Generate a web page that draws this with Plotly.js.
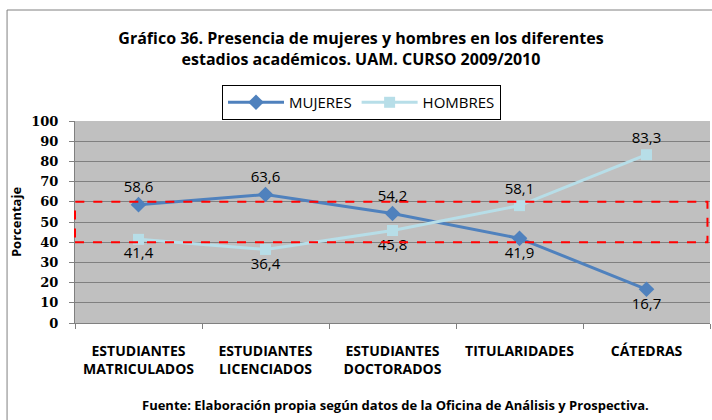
<!DOCTYPE html>
<html>
<head>
<meta charset="utf-8">
<script src="https://cdn.plot.ly/plotly-3.0.1.min.js"></script>
<style>html,body{margin:0;padding:0;background:#fff;}#chart{width:712px;height:420px;}</style>
</head>
<body>
<div id="chart"></div>
<script>
const categories = ["ESTUDIANTES<br>MATRICULADOS", "ESTUDIANTES<br>LICENCIADOS", "ESTUDIANTES<br>DOCTORADOS", "TITULARIDADES", "CÁTEDRAS"];
const mujeres = [58.6, 63.6, 54.2, 41.9, 16.7];
const hombres = [41.4, 36.4, 45.8, 58.1, 83.3];
const mujeresPos = ["top center", "top center", "top center", "bottom center", "bottom center"];
const hombresPos = ["bottom center", "bottom center", "bottom center", "top center", "top center"];
const yTicks = [0, 10, 20, 30, 40, 50, 60, 70, 80, 90, 100];
const highlightBand = [40, 60];

const fmt = v => v.toFixed(1).replace('.', ',');
const sans = "Open Sans, Noto Sans, sans-serif";
const labelFont = {family: sans, size: 15, color: "#000"};

const traces = [
  {
    x: categories, y: mujeres, name: "MUJERES", type: "scatter", mode: "lines+markers+text",
    line: {color: "#4F81BD", width: 3},
    marker: {symbol: "diamond", size: 12, color: "#4F81BD"},
    text: mujeres.map(fmt), textposition: mujeresPos, textfont: labelFont,
    cliponaxis: false
  },
  {
    x: categories, y: hombres, name: "HOMBRES", type: "scatter", mode: "lines+markers+text",
    line: {color: "#B7DEE8", width: 3},
    marker: {symbol: "square", size: 11, color: "#B7DEE8"},
    text: hombres.map(fmt), textposition: hombresPos, textfont: labelFont,
    cliponaxis: false
  }
];

const layout = {
  width: 712, height: 420,
  margin: {l: 75, r: 2, t: 121, b: 97},
  paper_bgcolor: "#fff",
  plot_bgcolor: "#C0C0C0",
  showlegend: true,
  title: {
    text: "<b>Gráfico 36. Presencia de mujeres y hombres en los diferentes<br>estadios académicos. UAM. CURSO 2009/2010</b>",
    font: {family: sans, size: 16, color: "#000"},
    x: 0.507, xanchor: "center", y: 0.895, yanchor: "top", yref: "container"
  },
  legend: {
    orientation: "h", x: 0.2315, xanchor: "left", y: 1.178, yanchor: "top",
    bordercolor: "#000", borderwidth: 1, bgcolor: "#fff",
    font: {family: sans, size: 15, color: "#000"},
    itemwidth: 56, tracegroupgap: 0
  },
  xaxis: {
    type: "category", range: [-0.5, 4.5],
    showgrid: false, zeroline: false,
    showline: true, linecolor: "#808080", linewidth: 1,
    ticks: "outside", tickson: "boundaries", ticklen: 5, tickcolor: "#808080",
    ticklabelstandoff: 15,
    tickfont: {family: sans, size: 14, color: "#000", weight: "bold"},
    fixedrange: true
  },
  yaxis: {
    range: [0, 100], tickvals: yTicks,
    showgrid: true, gridcolor: "#808080", gridwidth: 1,
    zeroline: false, showline: true, linecolor: "#808080",
    ticks: "outside", ticklen: 5, tickcolor: "#808080",
    ticklabelstandoff: 8,
    tickfont: {family: "DejaVu Serif, serif", size: 13, color: "#000", weight: "bold"},
    title: {text: "<b>Porcentaje</b>", font: {family: sans, size: 13, color: "#000"}, standoff: 6},
    fixedrange: true
  },
  shapes: [
    {type: "rect", xref: "paper", yref: "y", x0: 0, x1: 0.996, y0: highlightBand[0], y1: highlightBand[1],
     line: {color: "#FF0000", width: 2, dash: "dash"}, fillcolor: "rgba(0,0,0,0)", layer: "above"},
    {type: "rect", xref: "paper", yref: "paper", x0: -0.107, x1: 1.2, y0: -0.7, y1: 1.5495,
     line: {color: "#808080", width: 1}, fillcolor: "rgba(0,0,0,0)", layer: "below"}
  ],
  annotations: [
    {text: "<b>Fuente: Elaboración propia según datos de la Oficina de Análisis y Prospectiva.</b>",
     xref: "paper", yref: "paper", x: 0.505, y: -0.405, xanchor: "center", yanchor: "middle",
     showarrow: false, font: {family: sans, size: 13, color: "#000"}}
  ]
};

Plotly.newPlot("chart", traces, layout, {displayModeBar: false, staticPlot: true});
</script>
</body>
</html>
